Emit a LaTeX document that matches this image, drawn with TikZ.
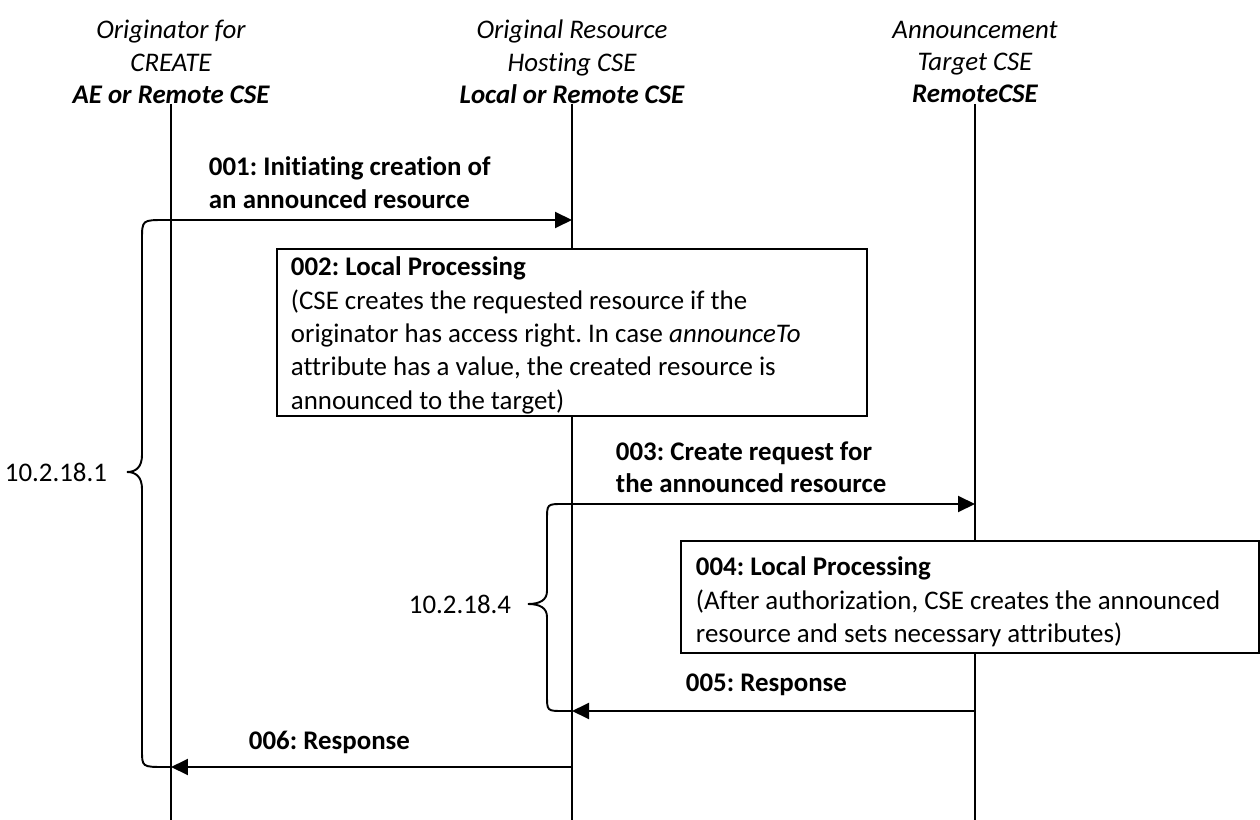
\documentclass[tikz,border=0pt]{standalone}
\usepackage{fontspec}
\setmainfont{Carlito}[Ligatures=CommonOff]
\usetikzlibrary{arrows.meta,positioning}
\newcommand{\diagfont}{\fontsize{15.3}{18.4}\selectfont}
\frenchspacing

\begin{document}
\begin{tikzpicture}[x=0.02cm,y=-0.02cm, line width=1.1pt,
  every node/.style={font=\diagfont, inner sep=0pt},
  header/.style={align=center, font=\diagfont\itshape},
  msg/.style={-{Triangle[length=3.4mm,width=3.2mm]}},
  msglabel/.style={anchor=north west, align=left, font=\diagfont\bfseries},
  procbox/.style={draw, fill=white, anchor=north west},
  proctext/.style={anchor=north west, align=left, font=\fontsize{15.3}{19}\selectfont}]
  \useasboundingbox (0,0) rectangle (1260,820);

  % lifelines and their headers
  \foreach \x/\nm/\la/\lb/\lc in {171/orig/Originator for/CREATE/AE or Remote CSE,
      572/host/Original Resource/Hosting CSE/Local or Remote CSE,
      975/target/Announcement/Target CSE/RemoteCSE}{
    \node[header] (h\nm) at (\x,62) {\la\\\lb\\\textbf{\lc}};
    \coordinate (\nm top) at (\x,104);
    \coordinate (\nm bot) at (\x,820);
    \draw (\nm top) -- (\nm bot);
  }

  % processing boxes
  \node[procbox, minimum width=11.8cm, minimum height=3.34cm] (p002) at (276,248) {};
  \node[proctext] (t002) at ([shift={(14,8)}]p002.north west)
    {\textbf{002: Local Processing}\\
     (CSE creates the requested resource if the\\
     originator has access right. In case \textit{announceTo}\\
     attribute has a value, the created resource is\\
     announced to the target)};
  \node[procbox, minimum width=11.56cm, minimum height=2.24cm] (p004) at (680,540) {};
  \node[proctext] (t004) at ([shift={(15,16)}]p004.north west)
    {\textbf{004: Local Processing}\\
     (After authorization, CSE creates the announced\\
     resource and sets necessary attributes)};

  % messages
  \coordinate (m001a) at (171,220); \coordinate (m001b) at (572,220);
  \coordinate (m003a) at (572,504); \coordinate (m003b) at (975,504);
  \coordinate (m005a) at (975,711); \coordinate (m005b) at (572,711);
  \coordinate (m006a) at (572,767); \coordinate (m006b) at (171,767);
  \draw[msg] (m001a) -- (m001b);
  \draw[msg] (m003a) -- (m003b);
  \draw[msg] (m005a) -- (m005b);
  \draw[msg] (m006a) -- (m006b);
  \node[msglabel] (l001) at (208,156) {001: Initiating creation of\\an announced resource};
  \node[msglabel] (l003) at (615,441) {003: Create request for\\the announced resource};
  \node[msglabel] (l005) at (685,673) {005: Response};
  \node[msglabel] (l006) at (248,730) {006: Response};

  % braces
  \coordinate (b1tip) at (127,472);
  \draw (m001a) -- (165,220) .. controls (142,220) .. (142,240) -- (142,455)
    .. controls (142,467) and (136,472) .. (b1tip)
    .. controls (136,472) and (142,477) .. (142,489) -- (142,750)
    .. controls (142,767) .. (165,767) -- (m006b);
  \node[left=0.38cm of b1tip] (r1) {10.2.18.1};
  \coordinate (b2tip) at (528,604);
  \draw (m003a) -- (563,504) .. controls (547,504) .. (547,520) -- (547,591)
    .. controls (547,600) and (540,604) .. (b2tip)
    .. controls (540,604) and (547,608) .. (547,617) -- (547,695)
    .. controls (547,711) .. (563,711) -- (m005b);
  \node[left=0.32cm of b2tip] (r4) {10.2.18.4};
\end{tikzpicture}
\end{document}
